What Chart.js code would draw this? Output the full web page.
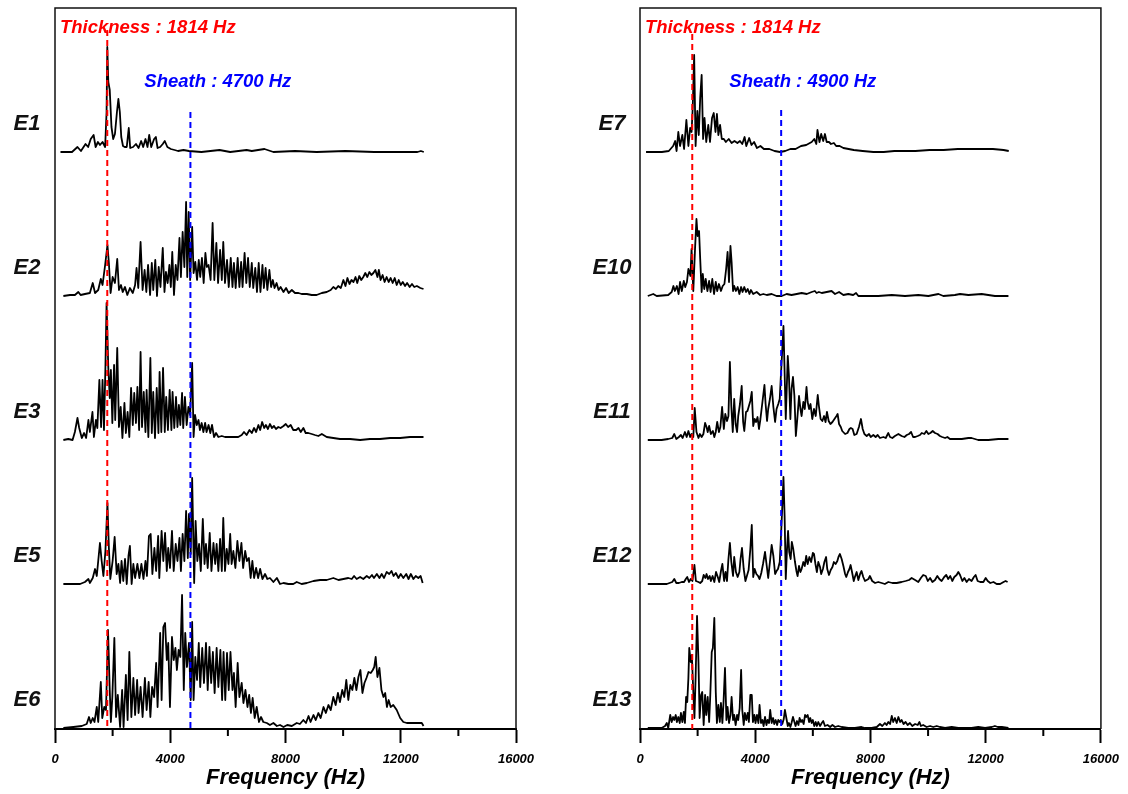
<!DOCTYPE html>
<html>
<head>
<meta charset="utf-8">
<script src="https://cdn.jsdelivr.net/npm/chart.js@4/dist/chart.umd.min.js"></script>
<style>
  html, body { margin: 0; padding: 0; background: #fff; }
  #wrap { position: relative; width: 1128px; height: 794px; }
  .panel { position: absolute; top: 0; width: 564px; height: 794px; }
  canvas { display: block; }
</style>
</head>
<body>
<div id="wrap">
  <div class="panel" style="left:0"><canvas id="left" width="564" height="794"></canvas></div>
  <div class="panel" style="left:564px"><canvas id="right" width="564" height="794"></canvas></div>
</div>
<script>
// ---- Spectra: [frequency (Hz), amplitude (a.u.)] ----
const e1 = [[190,0],[590,0],[780,5],[900,1],[1060,8],[1150,5],[1240,13],[1340,17],[1410,5],[1490,10],[1560,7],[1650,10],[1740,5],[1790,40],[1815,105],[1850,70],[1900,62],[1960,25],[2020,13],[2080,18],[2150,40],[2200,53],[2250,40],[2300,15],[2360,6],[2420,5],[2490,5],[2560,24],[2610,4],[2710,5],[2810,8],[2900,4],[2990,11],[3060,5],[3140,13],[3210,5],[3270,17],[3340,5],[3440,13],[3500,15],[3560,4],[3650,5],[3740,8],[3810,11],[3900,5],[4020,3],[4150,2],[4270,1],[4460,2],[4650,1],[5080,0],[5710,2],[6080,0],[6650,2],[6830,1],[7270,3],[7580,0],[8330,1],[9080,0],[10080,1],[11080,0],[11830,0],[12580,0],[12700,1],[12800,0]];

const e2 = [[290,0],[520,1],[690,1],[810,4],[890,1],[1040,2],[1210,3],[1310,13],[1390,3],[1500,6],[1590,17],[1650,11],[1740,31],[1820,51],[1870,33],[1930,3],[2000,19],[2080,13],[2160,37],[2220,6],[2290,11],[2350,4],[2430,9],[2510,1],[2600,8],[2700,3],[2780,11],[2830,28],[2890,8],[2970,54],[3040,6],[3110,26],[3170,4],[3230,31],[3300,1],[3360,33],[3410,6],[3480,36],[3540,0],[3600,29],[3660,9],[3740,48],[3800,4],[3850,24],[3910,13],[3970,31],[4020,9],[4070,44],[4130,1],[4190,31],[4250,16],[4320,58],[4370,19],[4430,64],[4490,29],[4550,94],[4590,19],[4640,84],[4690,16],[4760,69],[4810,23],[4870,34],[4930,16],[4990,36],[5040,19],[5100,38],[5160,13],[5220,43],[5270,29],[5330,31],[5400,16],[5470,73],[5530,16],[5600,53],[5660,13],[5730,46],[5790,16],[5840,54],[5900,13],[5970,36],[6030,9],[6100,38],[6160,9],[6210,33],[6270,8],[6340,38],[6400,9],[6460,34],[6510,9],[6580,43],[6640,13],[6700,38],[6760,9],[6830,33],[6880,8],[6950,28],[7010,4],[7070,33],[7130,4],[7200,31],[7250,8],[7310,28],[7370,6],[7440,26],[7500,9],[7560,16],[7620,8],[7690,13],[7760,6],[7830,9],[7930,4],[8020,8],[8110,3],[8220,6],[8330,3],[8450,3],[8560,2],[8740,2],[8910,1],[9080,1],[9260,3],[9430,4],[9570,6],[9660,9],[9750,7],[9830,10],[9920,8],[10010,16],[10080,10],[10150,18],[10220,12],[10290,16],[10360,14],[10430,19],[10490,13],[10560,20],[10630,16],[10700,19],[10770,23],[10840,19],[10910,24],[10980,21],[11050,23],[11120,26],[11190,19],[11240,26],[11300,16],[11370,21],[11440,14],[11510,19],[11580,14],[11650,18],[11720,13],[11790,18],[11860,11],[11930,16],[12000,11],[12070,14],[12150,10],[12220,13],[12310,9],[12390,12],[12470,9],[12560,10],[12680,8],[12790,7]];

const e3 = [[290,0],[460,1],[610,0],[690,8],[780,22],[840,12],[930,2],[1010,7],[1080,2],[1160,20],[1210,8],[1300,28],[1350,3],[1420,20],[1470,12],[1540,60],[1600,13],[1650,60],[1700,10],[1750,73],[1790,137],[1850,72],[1900,42],[1940,70],[1990,17],[2050,75],[2090,20],[2160,92],[2220,13],[2280,33],[2340,2],[2410,37],[2460,7],[2520,28],[2580,3],[2640,52],[2700,15],[2750,47],[2810,17],[2860,53],[2920,10],[2970,88],[3020,13],[3080,48],[3140,8],[3180,50],[3240,3],[3310,82],[3360,7],[3410,48],[3470,2],[3530,52],[3590,7],[3630,68],[3690,8],[3750,72],[3810,8],[3860,43],[3920,10],[3980,50],[4040,10],[4080,48],[4140,12],[4200,43],[4250,13],[4300,35],[4350,15],[4410,47],[4450,12],[4510,43],[4570,15],[4630,33],[4690,25],[4760,77],[4810,3],[4860,25],[4920,15],[4980,20],[5030,10],[5090,17],[5150,8],[5210,17],[5260,8],[5330,15],[5390,7],[5450,15],[5520,3],[5590,7],[5670,3],[5790,4],[5900,3],[6020,3],[6130,3],[6250,3],[6360,3],[6480,5],[6560,8],[6650,5],[6750,10],[6830,7],[6910,12],[6980,8],[7060,15],[7120,10],[7190,18],[7260,12],[7320,15],[7390,11],[7460,16],[7530,12],[7600,14],[7670,11],[7750,13],[7830,12],[7930,14],[8010,16],[8090,13],[8180,15],[8270,10],[8370,10],[8450,12],[8530,8],[8620,12],[8700,7],[8790,7],[8910,6],[9020,5],[9140,4],[9260,6],[9430,3],[9660,2],[9890,1],[10240,1],[10590,0],[10930,1],[11280,1],[11630,2],[11980,2],[12320,3],[12550,3],[12790,3]];

const e5 = [[290,0],[640,0],[870,0],[1040,2],[1160,5],[1210,1],[1310,6],[1390,15],[1450,8],[1500,23],[1560,41],[1620,23],[1680,8],[1750,33],[1820,81],[1870,36],[1920,5],[2000,23],[2070,47],[2140,10],[2200,20],[2260,1],[2310,23],[2370,3],[2430,25],[2490,0],[2550,28],[2600,38],[2660,0],[2720,20],[2780,6],[2860,20],[2930,6],[3000,20],[3070,5],[3140,23],[3190,8],[3260,48],[3320,50],[3380,10],[3450,36],[3510,13],[3580,48],[3620,6],[3700,53],[3760,23],[3820,51],[3880,13],[3930,36],[3990,16],[4060,53],[4120,13],[4190,40],[4250,23],[4320,46],[4370,13],[4430,50],[4490,23],[4550,73],[4610,26],[4650,70],[4710,30],[4760,106],[4830,1],[4880,63],[4940,23],[5000,40],[5060,13],[5130,65],[5190,20],[5240,40],[5300,16],[5370,51],[5430,13],[5500,41],[5560,20],[5610,40],[5670,13],[5730,45],[5790,13],[5840,66],[5900,13],[5960,35],[6020,20],[6080,50],[6130,20],[6190,33],[6260,16],[6330,43],[6400,23],[6470,41],[6530,16],[6600,33],[6660,23],[6730,26],[6790,6],[6850,23],[6910,6],[6980,16],[7050,6],[7120,15],[7200,5],[7290,10],[7370,5],[7460,6],[7580,2],[7700,6],[7810,0],[7930,1],[8100,0],[8270,0],[8390,2],[8560,0],[8740,1],[8970,3],[9200,4],[9430,4],[9660,6],[9840,4],[10010,5],[10180,6],[10300,5],[10380,8],[10470,5],[10590,7],[10700,5],[10820,8],[10910,6],[11000,9],[11070,6],[11170,10],[11260,6],[11340,10],[11420,6],[11510,12],[11600,10],[11680,13],[11750,8],[11830,11],[11920,6],[12000,10],[12090,6],[12190,10],[12270,5],[12350,10],[12440,5],[12520,8],[12610,6],[12690,8],[12760,1]];

const e6 = [[290,0],[640,1],[930,2],[1100,4],[1180,11],[1240,5],[1310,10],[1370,6],[1450,21],[1500,6],[1590,46],[1640,10],[1710,21],[1770,18],[1840,98],[1900,38],[1940,6],[1990,31],[2060,90],[2120,11],[2180,33],[2260,1],[2330,38],[2380,1],[2460,53],[2520,8],[2580,76],[2650,11],[2720,50],[2780,13],[2850,48],[2900,15],[2970,41],[3040,11],[3120,50],[3180,18],[3250,46],[3310,11],[3370,41],[3440,31],[3510,65],[3560,21],[3650,95],[3700,28],[3760,101],[3820,105],[3880,68],[3930,85],[3990,21],[4060,91],[4120,68],[4180,80],[4230,58],[4290,78],[4350,71],[4410,133],[4470,38],[4520,95],[4580,61],[4650,85],[4710,28],[4760,106],[4810,28],[4870,71],[4930,48],[4990,85],[5040,41],[5110,80],[5170,45],[5240,85],[5300,38],[5360,81],[5420,45],[5480,76],[5540,35],[5610,80],[5670,41],[5740,78],[5800,28],[5850,76],[5910,28],[5970,75],[6030,38],[6090,76],[6160,38],[6210,55],[6270,21],[6340,65],[6400,31],[6480,45],[6540,25],[6610,38],[6680,21],[6740,33],[6800,15],[6860,30],[6930,10],[7000,21],[7080,6],[7150,11],[7230,6],[7350,5],[7460,3],[7580,5],[7700,2],[7810,3],[7930,1],[8060,3],[8220,2],[8390,5],[8500,4],[8620,8],[8710,5],[8800,12],[8870,6],[8970,13],[9050,8],[9140,15],[9220,10],[9320,21],[9400,15],[9490,23],[9570,18],[9660,31],[9740,23],[9820,35],[9890,26],[9970,38],[10040,31],[10110,48],[10180,28],[10250,43],[10320,38],[10390,50],[10460,38],[10530,51],[10600,58],[10670,35],[10740,45],[10810,50],[10880,56],[10960,55],[11030,58],[11080,61],[11130,71],[11190,51],[11260,60],[11330,38],[11400,31],[11460,35],[11520,21],[11580,28],[11650,21],[11740,23],[11860,18],[11980,10],[12090,6],[12210,5],[12380,5],[12560,5],[12730,5],[12790,2]];

const e7 = [[210,0],[760,0],[1000,1],[1150,6],[1220,11],[1270,1],[1330,20],[1390,6],[1470,17],[1530,3],[1610,32],[1680,6],[1740,24],[1790,20],[1830,44],[1880,97],[1930,6],[1990,41],[2040,17],[2090,54],[2140,77],[2190,13],[2240,34],[2300,10],[2370,27],[2430,10],[2500,34],[2560,39],[2620,20],[2670,38],[2720,17],[2780,27],[2840,13],[2910,13],[2980,10],[3080,13],[3180,9],[3280,11],[3380,9],[3470,11],[3550,8],[3630,15],[3690,6],[3790,14],[3870,7],[3960,10],[4060,4],[4180,6],[4300,3],[4490,3],[4670,1],[4860,0],[5040,1],[5220,3],[5400,3],[5590,6],[5770,7],[5960,10],[6050,13],[6120,8],[6160,22],[6230,10],[6290,18],[6360,11],[6420,18],[6480,10],[6560,10],[6630,8],[6730,9],[6810,6],[6930,6],[7060,4],[7240,3],[7420,2],[7730,1],[8100,0],[8460,0],[8830,1],[9200,1],[9560,1],[10050,2],[10540,2],[11030,3],[11520,3],[11890,3],[12250,3],[12620,2],[12800,1]];

const e10 = [[270,0],[460,2],[580,0],[980,1],[1100,4],[1160,10],[1210,5],[1280,10],[1340,2],[1390,14],[1450,5],[1520,15],[1570,9],[1630,14],[1680,27],[1750,20],[1790,47],[1850,5],[1910,47],[1960,77],[2000,60],[2050,65],[2090,37],[2140,4],[2180,22],[2230,7],[2280,17],[2340,5],[2400,15],[2450,4],[2510,17],[2570,2],[2630,14],[2680,5],[2740,12],[2810,5],[2870,10],[2930,12],[2990,27],[3040,44],[3090,14],[3140,50],[3180,34],[3230,5],[3270,10],[3330,5],[3390,9],[3450,2],[3510,9],[3560,4],[3620,9],[3680,4],[3740,7],[3800,2],[3850,6],[3930,2],[4050,4],[4170,1],[4280,2],[4400,1],[4570,2],[4740,0],[4920,0],[5090,2],[5260,1],[5440,2],[5610,3],[5790,2],[5960,4],[6070,5],[6130,3],[6210,4],[6310,3],[6480,4],[6650,5],[6770,2],[6910,4],[7060,1],[7230,2],[7400,1],[7500,3],[7580,0],[7930,0],[8270,0],[8740,1],[9200,0],[9660,1],[10010,0],[10360,2],[10530,0],[10930,1],[11110,2],[11400,1],[11860,2],[12320,0],[12790,0]];

const e11 = [[270,0],[750,0],[980,1],[1120,2],[1190,6],[1260,1],[1350,3],[1420,5],[1480,2],[1560,8],[1620,3],[1680,9],[1740,3],[1790,6],[1850,3],[1900,32],[1960,8],[2030,2],[2080,6],[2140,3],[2200,6],[2260,17],[2310,13],[2350,8],[2400,14],[2460,6],[2530,9],[2580,3],[2630,8],[2680,18],[2740,8],[2790,13],[2850,33],[2910,11],[2960,26],[3020,19],[3070,24],[3120,78],[3170,34],[3220,8],[3270,41],[3320,16],[3370,8],[3410,24],[3470,36],[3530,54],[3580,18],[3620,9],[3680,28],[3730,29],[3780,34],[3830,39],[3880,48],[3930,14],[3980,21],[4030,18],[4080,23],[4130,11],[4180,21],[4250,38],[4320,55],[4360,36],[4410,19],[4450,31],[4510,41],[4570,54],[4630,33],[4690,18],[4740,31],[4800,36],[4850,41],[4890,64],[4940,91],[4980,114],[5010,79],[5060,21],[5090,48],[5130,84],[5170,64],[5220,21],[5260,51],[5310,63],[5360,44],[5410,4],[5460,21],[5520,44],[5570,31],[5610,24],[5670,38],[5720,31],[5780,53],[5820,38],[5870,31],[5920,36],[5980,21],[6040,31],[6100,24],[6170,45],[6210,34],[6270,21],[6330,19],[6390,24],[6440,18],[6490,28],[6550,19],[6610,16],[6680,18],[6750,21],[6820,24],[6860,26],[6910,16],[6970,13],[7020,9],[7120,6],[7200,7],[7270,11],[7320,12],[7380,11],[7440,5],[7520,6],[7600,13],[7670,21],[7730,11],[7790,6],[7870,4],[7950,6],[8010,3],[8100,5],[8180,3],[8250,5],[8330,2],[8450,3],[8530,2],[8620,7],[8680,3],[8760,2],[8850,4],[8970,6],[9080,4],[9180,3],[9260,5],[9340,6],[9410,8],[9480,3],[9550,3],[9640,4],[9720,5],[9780,7],[9870,6],[9940,9],[10010,6],[10080,7],[10160,9],[10240,7],[10330,6],[10410,4],[10490,3],[10590,2],[10670,3],[10760,1],[10930,1],[11170,1],[11400,2],[11510,2],[11740,0],[12090,0],[12440,1],[12790,1]];

const e12 = [[270,0],[640,0],[930,0],[1120,2],[1190,5],[1260,1],[1350,1],[1450,2],[1530,2],[1590,5],[1640,7],[1700,2],[1760,5],[1820,3],[1890,19],[1940,3],[2030,2],[2090,1],[2160,3],[2210,9],[2270,6],[2310,10],[2360,5],[2420,8],[2460,3],[2520,8],[2580,2],[2640,12],[2700,7],[2750,2],[2810,13],[2860,20],[2920,3],[2970,12],[3020,3],[3070,25],[3120,41],[3170,22],[3230,8],[3270,27],[3330,12],[3390,7],[3450,12],[3490,25],[3540,36],[3600,15],[3660,3],[3710,8],[3770,14],[3830,35],[3880,59],[3930,7],[3980,15],[4040,10],[4100,8],[4150,5],[4210,11],[4270,20],[4340,32],[4400,18],[4450,6],[4510,22],[4570,39],[4630,28],[4690,10],[4740,13],[4790,15],[4850,22],[4890,45],[4940,78],[4980,107],[5020,68],[5060,5],[5100,33],[5140,53],[5180,32],[5230,25],[5270,42],[5320,35],[5380,22],[5430,13],[5470,8],[5520,18],[5570,12],[5610,15],[5670,22],[5720,18],[5770,28],[5820,20],[5880,27],[5940,22],[6000,31],[6040,30],[6090,20],[6140,12],[6190,22],[6250,17],[6290,10],[6350,15],[6400,22],[6460,27],[6500,15],[6560,9],[6620,14],[6680,17],[6730,22],[6790,20],[6850,23],[6890,27],[6940,30],[7000,25],[7060,18],[7120,10],[7160,7],[7220,12],[7270,15],[7310,19],[7360,12],[7420,3],[7460,7],[7520,12],[7580,4],[7640,10],[7690,13],[7750,7],[7810,3],[7930,5],[7980,8],[8060,3],[8160,1],[8270,2],[8390,1],[8500,0],[8620,2],[8760,1],[8910,1],[9080,2],[9220,3],[9340,4],[9430,6],[9550,4],[9660,2],[9750,6],[9830,9],[9920,8],[9990,3],[10070,6],[10150,2],[10240,4],[10320,8],[10390,5],[10470,3],[10560,7],[10630,9],[10700,5],[10770,8],[10840,3],[10910,7],[10990,9],[11050,12],[11110,9],[11190,3],[11260,6],[11340,2],[11420,5],[11510,3],[11590,7],[11650,9],[11720,3],[11810,2],[11920,2],[12000,6],[12070,3],[12160,1],[12270,2],[12380,0],[12500,0],[12620,2],[12690,3],[12760,2]];

const e13 = [[270,0],[520,0],[750,0],[870,2],[930,5],[980,0],[1050,13],[1100,6],[1150,11],[1190,8],[1240,13],[1280,6],[1330,11],[1380,5],[1420,15],[1470,6],[1520,16],[1560,5],[1600,31],[1640,26],[1680,50],[1710,80],[1760,66],[1800,73],[1850,36],[1890,10],[1930,50],[1980,112],[2030,66],[2070,10],[2120,33],[2160,36],[2210,3],[2260,33],[2300,13],[2350,31],[2400,6],[2440,33],[2490,76],[2530,80],[2580,110],[2630,36],[2670,5],[2720,23],[2770,6],[2810,25],[2860,5],[2900,26],[2950,60],[3000,8],[3040,21],[3090,5],[3140,13],[3180,31],[3230,8],[3270,13],[3320,3],[3370,13],[3410,8],[3460,20],[3510,58],[3550,18],[3600,3],[3640,15],[3690,8],[3740,15],[3780,6],[3830,33],[3880,33],[3920,6],[3970,13],[4010,5],[4060,13],[4110,5],[4150,23],[4200,5],[4250,8],[4290,2],[4340,11],[4390,3],[4430,8],[4480,5],[4520,18],[4570,5],[4620,10],[4660,4],[4710,8],[4760,3],[4800,8],[4850,6],[4890,8],[4940,4],[4990,9],[5030,18],[5080,10],[5130,2],[5170,5],[5220,1],[5260,5],[5310,11],[5360,6],[5400,2],[5450,7],[5500,3],[5540,10],[5590,6],[5630,8],[5680,4],[5730,13],[5770,11],[5820,13],[5870,6],[5910,10],[5960,5],[6000,8],[6050,2],[6100,6],[6140,2],[6190,6],[6250,2],[6310,5],[6360,7],[6420,2],[6510,3],[6600,1],[6680,3],[6770,1],[6880,2],[7000,1],[7230,0],[7460,0],[7690,1],[7810,0],[8040,0],[8220,1],[8330,4],[8410,2],[8500,5],[8560,3],[8620,6],[8680,4],[8740,12],[8790,6],[8850,10],[8910,5],[8970,11],[9030,6],[9080,8],[9150,4],[9220,6],[9290,3],[9370,5],[9450,2],[9550,4],[9640,3],[9700,6],[9750,2],[9830,3],[9950,1],[10070,2],[10180,1],[10300,2],[10410,1],[10590,0],[10820,1],[11050,0],[11280,0],[11510,0],[11740,1],[11980,0],[12210,1],[12320,2],[12420,1],[12560,1],[12790,0]];

// ---- Panel contents ----
const leftNames = ['E1', 'E2', 'E3', 'E5', 'E6'];
const rightNames = ['E7', 'E10', 'E11', 'E12', 'E13'];
const leftSpectra = [e1, e2, e3, e5, e6];
const rightSpectra = [e7, e10, e11, e12, e13];

// Characteristic frequencies marked by dashed lines (Hz)
const thicknessHz = 1814;
const sheathHzLeft = 4700;
const sheathHzRight = 4900;

// Frequency axis ticks (Hz)
const majorTicks = [0, 4000, 8000, 12000, 16000];
const minorTicks = [2000, 6000, 10000, 14000];

// ---- Drawing ----
const FAMILY = '"Liberation Sans", Arial, sans-serif';
const STACK_STEP = 144;           // vertical spacing between stacked traces
const Y_MIN = -1, Y_MAX = 720;    // amplitude range of the stacked plot

const annotationPlugin = {
  id: 'stackAnnotations',
  afterDraw(chart) {
    const { ctx, chartArea: ca, scales: { x, y } } = chart;
    const cfg = chart.options.plugins.stackAnnotations;
    ctx.save();

    // frame: left, top and right edges of the plot box
    ctx.strokeStyle = '#111';
    ctx.lineWidth = 1.5;
    ctx.beginPath();
    ctx.moveTo(ca.left, ca.bottom);
    ctx.lineTo(ca.left, ca.top);
    ctx.lineTo(ca.right, ca.top);
    ctx.lineTo(ca.right, ca.bottom);
    ctx.stroke();

    // short minor ticks below the frequency axis
    ctx.strokeStyle = '#000';
    ctx.lineWidth = 2;
    ctx.beginPath();
    minorTicks.forEach(v => {
      const px = x.getPixelForValue(v);
      ctx.moveTo(px, ca.bottom);
      ctx.lineTo(px, ca.bottom + 7);
    });
    ctx.stroke();

    // trace names to the left of each trace
    ctx.fillStyle = '#111';
    ctx.font = 'italic bold 22px ' + FAMILY;
    ctx.textAlign = 'center';
    ctx.textBaseline = 'middle';
    cfg.names.forEach((name, i) => {
      ctx.fillText(name, ca.left - 28, y.getPixelForValue(cfg.offsets[i] + 28));
    });

    // marker captions
    ctx.font = 'italic bold 18.5px ' + FAMILY;
    ctx.textAlign = 'left';
    ctx.fillStyle = '#ff0000';
    ctx.fillText('Thickness : ' + thicknessHz + ' Hz', x.getPixelForValue(170), y.getPixelForValue(700));
    ctx.fillStyle = '#0000ff';
    ctx.fillText('Sheath : ' + cfg.sheathHz + ' Hz', x.getPixelForValue(3100), y.getPixelForValue(646));
    ctx.restore();
  }
};

function buildPanel(canvasId, names, spectra, sheathHz, padLeft, padRight, redTop, blueTop) {
  const n = spectra.length;
  const offsets = spectra.map((_, i) => (n - 1 - i) * STACK_STEP);
  const datasets = spectra.map((s, i) => ({
    data: s.map(p => ({ x: p[0], y: p[1] + offsets[i] })),
    borderColor: '#000',
    borderWidth: 1.8,
    borderJoinStyle: 'round',
    pointRadius: 0,
    tension: 0,
    fill: false,
    order: 1
  }));
  datasets.push({
    data: [{ x: thicknessHz, y: redTop }, { x: thicknessHz, y: Y_MIN }],
    borderColor: '#ff0000', borderWidth: 2, borderDash: [6, 4], pointRadius: 0, fill: false, order: 0
  });
  datasets.push({
    data: [{ x: sheathHz, y: blueTop }, { x: sheathHz, y: Y_MIN }],
    borderColor: '#0000ff', borderWidth: 2, borderDash: [6, 4], pointRadius: 0, fill: false, order: 0
  });

  return new Chart(document.getElementById(canvasId), {
    type: 'line',
    data: { datasets },
    plugins: [annotationPlugin],
    options: {
      responsive: false,
      animation: false,
      events: [],
      layout: { padding: { left: padLeft, right: padRight, top: 8, bottom: 0 } },
      plugins: {
        legend: { display: false },
        tooltip: { enabled: false },
        stackAnnotations: { names, offsets, sheathHz }
      },
      scales: {
        x: {
          type: 'linear',
          min: 0,
          max: 16000,
          afterFit: scale => { scale.height = 65; },
          afterBuildTicks: scale => {
            scale.ticks = majorTicks.map(v => ({ value: v }));
          },
          ticks: {
            autoSkip: false,
            maxRotation: 0,
            color: '#000',
            padding: 9,
            font: { family: FAMILY, size: 13, weight: 'bold', style: 'italic' },
            callback: v => String(v)
          },
          grid: {
            display: true,
            drawOnChartArea: false,
            drawTicks: true,
            tickLength: 14,
            tickWidth: 2,
            tickColor: '#000'
          },
          border: { display: true, color: '#000', width: 2 },
          title: {
            display: true,
            text: 'Frequency (Hz)',
            color: '#000',
            padding: { top: 0, bottom: 3 },
            font: { family: FAMILY, size: 22, weight: 'bold', style: 'italic' }
          }
        },
        y: { type: 'linear', display: false, min: Y_MIN, max: Y_MAX }
      }
    }
  });
}

buildPanel('left', leftNames, leftSpectra, sheathHzLeft, 55, 48, 698, 616);
buildPanel('right', rightNames, rightSpectra, sheathHzRight, 76, 27, 694, 618);
</script>
</body>
</html>
